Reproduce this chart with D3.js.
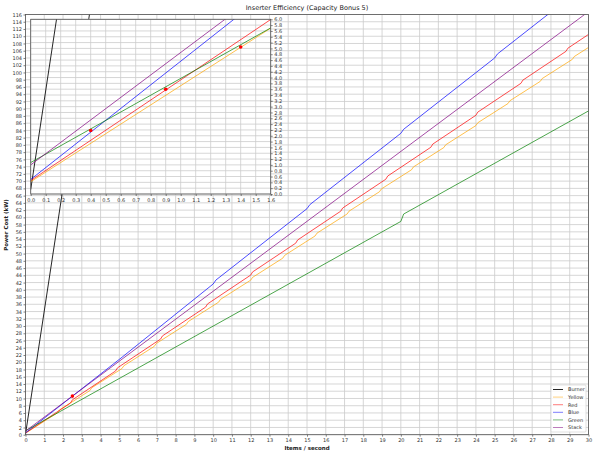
<!DOCTYPE html>
<html>
<head>
<meta charset="utf-8">
<script src="https://cdn.jsdelivr.net/npm/d3@7"></script>
<style>
  body { margin: 0; background: #fff; }
  text { font-family: "DejaVu Sans", sans-serif; }
</style>
</head>
<body>
<svg id="chart" width="600" height="455"></svg>
<script>
// series vertices (x = items/s, y = kW)
const burner = [[0, 0.15], [3.5, 119.15]];
const yellow = [[0, 0.42], [1.71, 6.06], [1.81, 6.83], [3.43, 12.18], [3.53, 12.95],
  [5.14, 18.26], [5.24, 19.03], [6.86, 24.38], [6.96, 25.15], [8.57, 30.46], [8.67, 31.23],
  [10.29, 36.58], [10.39, 37.35], [12.0, 42.66], [12.1, 43.43], [13.71, 48.74], [13.81, 49.51],
  [15.43, 54.86], [15.53, 55.63], [17.14, 60.94], [17.24, 61.71], [18.86, 67.06], [18.96, 67.83],
  [20.57, 73.14], [20.67, 73.91], [22.29, 79.26], [22.39, 80.03], [24.0, 85.34], [24.1, 86.11],
  [25.71, 91.42], [25.81, 92.19], [27.43, 97.54], [27.53, 98.31], [29.14, 103.62], [29.24, 104.39],
  [30, 106.9]];
const red = [[0, 0.46], [2.4, 8.76], [2.5, 9.63], [4.8, 17.59], [4.9, 18.45], [7.2, 26.41],
  [7.3, 27.28], [9.6, 35.24], [9.7, 36.10], [12.0, 44.06], [12.1, 44.93], [14.4, 52.88],
  [14.5, 53.75], [16.8, 61.71], [16.9, 62.57], [19.2, 70.53], [19.3, 71.40], [21.6, 79.36],
  [21.7, 80.22], [24.0, 88.18], [24.1, 89.05], [26.4, 97.0], [26.5, 97.87], [28.8, 105.83],
  [28.9, 106.69], [30, 110.5]];
const blue = [[0, 0.5], [5, 20.8], [5.15, 21.41], [10, 41.6], [10.15, 42.71], [15, 62.4],
  [15.15, 63.51], [20, 83.2], [20.15, 84.31], [25, 104.0], [25.15, 105.11], [30, 124.8]];
const green = [[0, 1.08], [20, 58.88], [20.15, 60.91], [30, 89.38]];
const stack = [[0, 1.0], [30, 116.8]];

const seriesNames = ['Burner', 'Yellow', 'Red', 'Blue', 'Green', 'Stack'];
const seriesData = [burner, yellow, red, blue, green, stack];
const seriesColors = ['#000000', '#ffa500', '#ff0000', '#0000ff', '#008000', '#800080'];

// crossing points marked in red
const mainMarks = [[2.5, 10.65]];
const insetMarks = [[0.4, 2.18], [0.9, 3.6], [1.4, 5.05]];

const xTicksMain = d3.range(0, 31, 1);
const yTicksMain = d3.range(0, 117, 2);
const xTicksInset = d3.range(0, 17, 1).map((d) => d / 10);
const yTicksInset = d3.range(0, 31, 1).map((d) => d / 5);

const svg = d3.select('#chart');
const gridColor = '#cccccc';
const tickColor = '#333';

const drawPanel = (g, x, y, xTicks, yTicks, yRight, fmtX, fmtY, marks, clipId) => {
  const [x0, x1] = x.range();
  const [y0, y1] = y.range();

  g.append('rect')
      .attr('x', x0).attr('y', y1)
      .attr('width', x1 - x0).attr('height', y0 - y1)
      .attr('fill', '#fff');

  g.append('g')
      .selectAll('line')
      .data(xTicks)
      .join('line')
      .attr('x1', (d) => x(d)).attr('x2', (d) => x(d))
      .attr('y1', y0).attr('y2', y1)
      .attr('stroke', gridColor).attr('stroke-width', 0.8);
  g.append('g')
      .selectAll('line')
      .data(yTicks)
      .join('line')
      .attr('x1', x0).attr('x2', x1)
      .attr('y1', (d) => y(d)).attr('y2', (d) => y(d))
      .attr('stroke', gridColor).attr('stroke-width', 0.8);

  g.append('clipPath').attr('id', clipId)
      .append('rect')
      .attr('x', x0).attr('y', y1)
      .attr('width', x1 - x0).attr('height', y0 - y1);

  const line = d3.line().x((d) => x(d[0])).y((d) => y(d[1]));
  const lines = g.append('g').attr('clip-path', `url(#${clipId})`);
  seriesData.forEach((data, i) => {
    lines.append('path')
        .attr('d', line(data))
        .attr('fill', 'none')
        .attr('stroke', seriesColors[i])
        .attr('stroke-opacity', i === 0 ? 0.85 : 0.7)
        .attr('stroke-width', 1);
  });
  lines.selectAll('circle')
      .data(marks)
      .join('circle')
      .attr('cx', (d) => x(d[0])).attr('cy', (d) => y(d[1]))
      .attr('r', 1.8)
      .attr('fill', '#ff0000');

  const xAxis = g.append('g')
      .attr('transform', `translate(0,${y0})`)
      .call(d3.axisBottom(x).tickValues(xTicks).tickFormat(fmtX).tickSize(2).tickPadding(2));
  const yAxis = g.append('g')
      .attr('transform', `translate(${yRight ? x1 : x0},0)`)
      .call((yRight ? d3.axisRight(y) : d3.axisLeft(y))
          .tickValues(yTicks).tickFormat(fmtY).tickSize(2).tickPadding(1.5));
  [xAxis, yAxis].forEach((a) => {
    a.select('.domain').remove();
    a.selectAll('line').attr('stroke', tickColor).attr('stroke-width', 0.6);
    a.selectAll('text').attr('fill', tickColor).style('font-size', '5px');
  });

  g.append('rect')
      .attr('x', x0).attr('y', y1)
      .attr('width', x1 - x0).attr('height', y0 - y1)
      .attr('fill', 'none')
      .attr('stroke', '#555').attr('stroke-width', 0.8);
};

// main panel
const xMain = d3.scaleLinear().domain([0, 30]).range([25.5, 588.5]);
const yMain = d3.scaleLinear().domain([0, 116]).range([434.7, 14.5]);
drawPanel(svg.append('g'), xMain, yMain, xTicksMain, yTicksMain, false,
    d3.format('d'), d3.format('d'), mainMarks, 'clipMain');

// zoomed inset
const xInset = d3.scaleLinear().domain([0, 1.6]).range([30.7, 270.7]);
const yInset = d3.scaleLinear().domain([0, 6]).range([194, 19.3]);
drawPanel(svg.append('g'), xInset, yInset, xTicksInset, yTicksInset, true,
    d3.format('.1f'), d3.format('.1f'), insetMarks, 'clipInset');

svg.append('text')
    .attr('x', 307).attr('y', 10)
    .attr('text-anchor', 'middle')
    .style('font-size', '6.5px')
    .attr('fill', '#222')
    .text('Inserter Efficiency (Capacity Bonus 5)');

svg.append('text')
    .attr('x', 307).attr('y', 450)
    .attr('text-anchor', 'middle')
    .style('font-size', '5.5px').style('font-weight', 'bold')
    .attr('fill', '#222')
    .text('Items / second');

svg.append('text')
    .attr('transform', 'translate(8,225) rotate(-90)')
    .attr('text-anchor', 'middle')
    .style('font-size', '5.5px').style('font-weight', 'bold')
    .attr('fill', '#222')
    .text('Power Cost (kW)');

// legend
const legend = svg.append('g').attr('transform', 'translate(551,385)');
legend.append('rect')
    .attr('width', 35).attr('height', 47)
    .attr('rx', 1)
    .attr('fill', '#fff').attr('fill-opacity', 0.85)
    .attr('stroke', '#ccc').attr('stroke-width', 0.6);
const rows = legend.selectAll('g.row')
    .data(seriesNames)
    .join('g')
    .attr('class', 'row')
    .attr('transform', (d, i) => `translate(0,${4.5 + i * 7.6})`);
rows.append('line')
    .attr('x1', 2).attr('x2', 12)
    .attr('stroke', (d, i) => seriesColors[i])
    .attr('stroke-opacity', (d, i) => (i === 0 ? 0.85 : 0.5))
    .attr('stroke-width', 1);
rows.append('text')
    .attr('x', 17).attr('y', 1.8)
    .style('font-size', '5px')
    .attr('fill', '#333')
    .text((d) => d);
</script>
</body>
</html>
